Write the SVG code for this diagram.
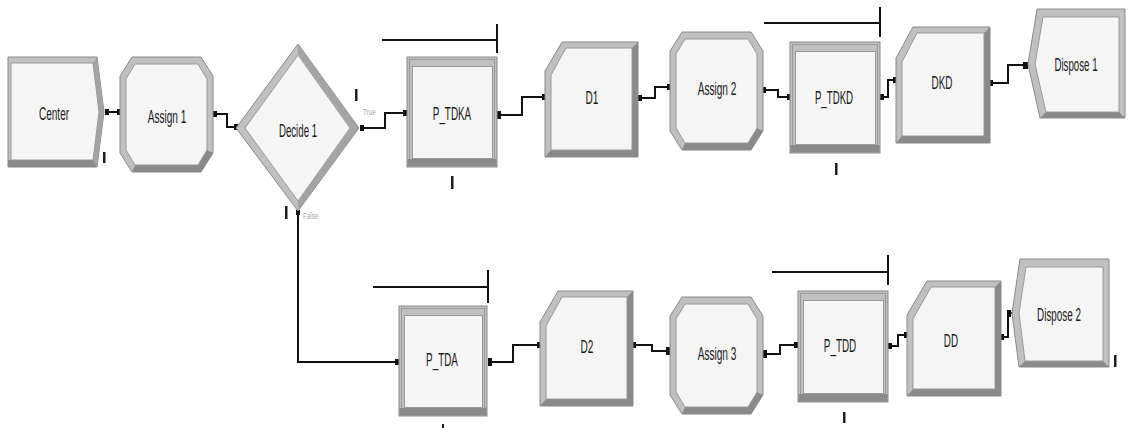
<svg xmlns="http://www.w3.org/2000/svg" width="1131" height="428" viewBox="0 0 1131 428">
  <style>
    .band { fill: #c0c0c0; stroke: #8a8a8a; stroke-width: 1; }
    .shade { fill: #8a8a8a; }
    .side { fill: #a4a4a4; }
    .face { fill: #f5f5f5; stroke: #9a9a9a; stroke-width: 1; }
    .lbl { font-family: "Liberation Sans", Arial, sans-serif; font-size: 19px; fill: #1a1a1a; text-anchor: middle; }
    .small { font-family: "Liberation Sans", Arial, sans-serif; font-size: 9px; fill: #a8a8a8; }
    .conn { fill: none; stroke: #111; stroke-width: 2; }
    .dot { fill: #111; }
    .mark { fill: #1e1e1e; }
    .bar { fill: none; stroke: #111; stroke-width: 2; }
  </style>
  <rect width="1131" height="428" fill="#ffffff"/>

  <!-- connectors -->
  <g id="connectors">
    <polyline class="conn" points="106,112 120,112"/>
    <polyline class="conn" points="214,114 227,114 227,127 237,127"/>
    <polyline class="conn" points="361,128 385,128 385,113 406,113"/>
    <polyline class="conn" points="498,115 522,115 522,97 545,97"/>
    <polyline class="conn" points="639,98 655,98 655,87 670,87"/>
    <polyline class="conn" points="764,90 778,90 778,97 790,97"/>
    <polyline class="conn" points="881,97 888,97 888,80 896,80"/>
    <polyline class="conn" points="991,83 1008,83 1008,65 1028,65"/>
    <polyline class="conn" points="298,212 298,362 398,362"/>
    <polyline class="conn" points="489,362 513,362 513,345 540,345"/>
    <polyline class="conn" points="634,345 652,345 652,351 670,351"/>
    <polyline class="conn" points="764,354 780,354 780,345 797,345"/>
    <polyline class="conn" points="889,346 898,346 898,335 907,335"/>
    <polyline class="conn" points="1002,337 1008,337 1008,313 1012,313"/>
    <!-- connection points -->
    <rect class="dot" x="105" y="109" width="4" height="6"/>
    <rect class="dot" x="117" y="109" width="4" height="6"/>
    <rect class="dot" x="213" y="111" width="4" height="6"/>
    <rect class="dot" x="234" y="124" width="4" height="6"/>
    <rect class="dot" x="360" y="125" width="4" height="6"/>
    <rect class="dot" x="403" y="110" width="4" height="6"/>
    <rect class="dot" x="497" y="111" width="4" height="8"/>
    <rect class="dot" x="542" y="94" width="4" height="6"/>
    <rect class="dot" x="638" y="95" width="4" height="6"/>
    <rect class="dot" x="667" y="84" width="4" height="6"/>
    <rect class="dot" x="762" y="87" width="4" height="6"/>
    <rect class="dot" x="787" y="94" width="4" height="6"/>
    <rect class="dot" x="880" y="94" width="4" height="6"/>
    <rect class="dot" x="893" y="77" width="4" height="6"/>
    <rect class="dot" x="990" y="80" width="3" height="6"/>
    <rect class="dot" x="1023" y="62" width="5" height="7"/>
    <rect class="dot" x="296" y="210" width="4" height="5"/>
    <rect class="dot" x="395" y="359" width="4" height="6"/>
    <rect class="dot" x="488" y="358" width="4" height="8"/>
    <rect class="dot" x="537" y="342" width="4" height="6"/>
    <rect class="dot" x="633" y="342" width="3" height="6"/>
    <rect class="dot" x="666" y="347" width="5" height="8"/>
    <rect class="dot" x="763" y="350" width="4" height="8"/>
    <rect class="dot" x="794" y="342" width="4" height="6"/>
    <rect class="dot" x="888" y="343" width="4" height="6"/>
    <rect class="dot" x="904" y="332" width="4" height="6"/>
    <rect class="dot" x="1001" y="334" width="3" height="6"/>
    <rect class="dot" x="1007" y="310" width="4" height="7"/>
  </g>

  <!-- queue / resource lines above the process modules -->
  <g id="queues">
    <polyline class="bar" points="382,40 497,40"/>
    <polyline class="bar" points="497,24 497,53"/>
    <polyline class="bar" points="764,23 880,23"/>
    <polyline class="bar" points="880,7 880,37"/>
    <polyline class="bar" points="373,287 488,287"/>
    <polyline class="bar" points="488,270 488,303"/>
    <polyline class="bar" points="772,272 888,272"/>
    <polyline class="bar" points="888,255 888,285"/>
  </g>

  <!-- Create -->
  <g id="center">
    <polygon class="band" points="8,57 97,57 104,112 97,167 8,167"/>
    <polygon class="shade" points="8,160 98,160 97,167 8,167"/>
    <polygon class="side" points="93,63 97,57 104,112 97,167 93,160 99,112"/>
    <polygon class="face" points="11,63 93,63 99,112 93,160 11,160"/>
    <text class="lbl" transform="translate(54 120) scale(0.53 1)">Center</text>
    <rect class="mark" x="103" y="152" width="2.5" height="11"/>
  </g>

  <!-- Assign 1 -->
  <g id="assign1">
    <polygon class="band" points="132,57 201,57 213,76 213,153 201,172 132,172 120,153 120,76"/>
    <polygon class="shade" points="132,172 201,172 213,153 207,150 198,165 135,165"/>
    <polygon class="face" points="135,64 198,64 207,79 207,150 198,165 135,165 126,150 126,79"/>
    <text class="lbl" transform="translate(167 123) scale(0.53 1)">Assign 1</text>
  </g>

  <!-- Decide 1 -->
  <g id="decide1">
    <polygon class="band" points="236,128 298,44 359,128 298,211"/>
    <polygon class="side" points="298,44 359,128 298,211 298,201 351,128 298,54"/>
    <polygon class="face" points="245,128 298,55 350,128 298,201"/>
    <text class="lbl" transform="translate(298 137) scale(0.51 1)">Decide 1</text>
    <rect class="mark" x="355" y="89" width="2.5" height="12"/>
    <text class="small" transform="translate(363 115) scale(0.7 1)">True</text>
    <rect class="mark" x="285" y="206" width="2.5" height="13"/>
    <text class="small" transform="translate(303 219) scale(0.7 1)">False</text>
  </g>

  <!-- P_TDKA -->
  <g id="p_tdka">
    <rect class="band" x="407" y="57" width="90" height="110"/>
    <rect fill="none" stroke="#9a9a9a" x="409.5" y="59.5" width="85" height="105"/>
    <rect class="shade" x="407.5" y="159" width="89" height="7.5"/>
    <rect class="face" x="412.5" y="66.5" width="80" height="92"/>
    <text class="lbl" transform="translate(452 120) scale(0.52 1)">P_TDKA</text>
    <rect class="mark" x="451" y="176" width="2.5" height="13"/>
  </g>

  <!-- D1 -->
  <g id="d1">
    <polygon class="band" points="562,42 638,42 638,157 545,157 545,71"/>
    <polygon class="shade" points="545,157 638,157 638,42 632,48 632,150 551,150"/>
    <polygon class="face" points="566,48 632,48 632,150 551,150 551,75"/>
    <text class="lbl" transform="translate(592 104) scale(0.53 1)">D1</text>
  </g>

  <!-- Assign 2 -->
  <g id="assign2">
    <polygon class="band" points="682,32 751,32 763,51 763,131 751,150 682,150 670,131 670,51"/>
    <polygon class="shade" points="682,150 751,150 763,131 757,128 748,143 685,143"/>
    <polygon class="face" points="685,39 748,39 757,54 757,128 748,143 685,143 676,128 676,54"/>
    <text class="lbl" transform="translate(717 95) scale(0.53 1)">Assign 2</text>
  </g>

  <!-- P_TDKD -->
  <g id="p_tdkd">
    <rect class="band" x="790" y="42" width="90" height="111"/>
    <rect fill="none" stroke="#9a9a9a" x="792.5" y="44.5" width="85" height="106"/>
    <rect class="shade" x="790.5" y="145" width="89" height="7.5"/>
    <rect class="face" x="795.5" y="51.5" width="80" height="93"/>
    <text class="lbl" transform="translate(834 104) scale(0.51 1)">P_TDKD</text>
    <rect class="mark" x="835" y="163" width="2.5" height="12"/>
  </g>

  <!-- DKD -->
  <g id="dkd">
    <polygon class="band" points="913,27 990,27 990,143 896,143 896,58"/>
    <polygon class="shade" points="896,143 990,143 990,27 984,33 984,136 902,136"/>
    <polygon class="face" points="917,33 984,33 984,136 902,136 902,62"/>
    <text class="lbl" transform="translate(942 89) scale(0.52 1)">DKD</text>
  </g>

  <!-- Dispose 1 -->
  <g id="dispose1">
    <polygon class="band" points="1037,9 1125,9 1125,118 1040,118 1028,64"/>
    <polygon class="shade" points="1040,118 1125,118 1119,112 1046,112"/>
    <polygon class="face" points="1043,17 1119,17 1119,112 1046,112 1035,64"/>
    <text class="lbl" transform="translate(1076 71) scale(0.51 1)">Dispose 1</text>
  </g>

  <!-- P_TDA -->
  <g id="p_tda">
    <rect class="band" x="399" y="306" width="88" height="110"/>
    <rect fill="none" stroke="#9a9a9a" x="401.5" y="308.5" width="83" height="105"/>
    <rect class="shade" x="399.5" y="408" width="87" height="7.5"/>
    <rect class="face" x="404.5" y="315.5" width="78" height="92"/>
    <text class="lbl" transform="translate(442 366) scale(0.52 1)">P_TDA</text>
    <rect class="mark" x="442" y="424" width="2" height="4"/>
  </g>

  <!-- D2 -->
  <g id="d2">
    <polygon class="band" points="558,291 633,291 633,406 540,406 540,322"/>
    <polygon class="shade" points="540,406 633,406 633,291 627,297 627,399 546,399"/>
    <polygon class="face" points="562,297 627,297 627,399 546,399 546,326"/>
    <text class="lbl" transform="translate(587 353) scale(0.53 1)">D2</text>
  </g>

  <!-- Assign 3 -->
  <g id="assign3">
    <polygon class="band" points="682,297 751,297 763,316 763,395 751,414 682,414 670,395 670,316"/>
    <polygon class="shade" points="682,414 751,414 763,395 757,392 748,407 685,407"/>
    <polygon class="face" points="685,304 748,304 757,319 757,392 748,407 685,407 676,392 676,319"/>
    <text class="lbl" transform="translate(717 360) scale(0.53 1)">Assign 3</text>
  </g>

  <!-- P_TDD -->
  <g id="p_tdd">
    <rect class="band" x="798" y="291" width="90" height="111"/>
    <rect fill="none" stroke="#9a9a9a" x="800.5" y="293.5" width="85" height="106"/>
    <rect class="shade" x="798.5" y="394" width="89" height="7.5"/>
    <rect class="face" x="803.5" y="300.5" width="80" height="93"/>
    <text class="lbl" transform="translate(840 352) scale(0.52 1)">P_TDD</text>
    <rect class="mark" x="843" y="412" width="2.5" height="11"/>
  </g>

  <!-- DD -->
  <g id="dd">
    <polygon class="band" points="927,281 1001,281 1001,396 907,396 907,315"/>
    <polygon class="shade" points="907,396 1001,396 1001,281 995,287 995,389 913,389"/>
    <polygon class="face" points="931,287 995,287 995,389 913,389 913,319"/>
    <text class="lbl" transform="translate(951 347) scale(0.52 1)">DD</text>
  </g>

  <!-- Dispose 2 -->
  <g id="dispose2">
    <polygon class="band" points="1020,259 1109,259 1109,367 1019,367 1012,313"/>
    <polygon class="shade" points="1019,367 1109,367 1103,361 1025,361"/>
    <polygon class="face" points="1026,267 1103,267 1103,361 1025,361 1019,313"/>
    <text class="lbl" transform="translate(1059 321) scale(0.52 1)">Dispose 2</text>
    <rect class="mark" x="1114" y="355" width="2.5" height="12"/>
  </g>
</svg>
